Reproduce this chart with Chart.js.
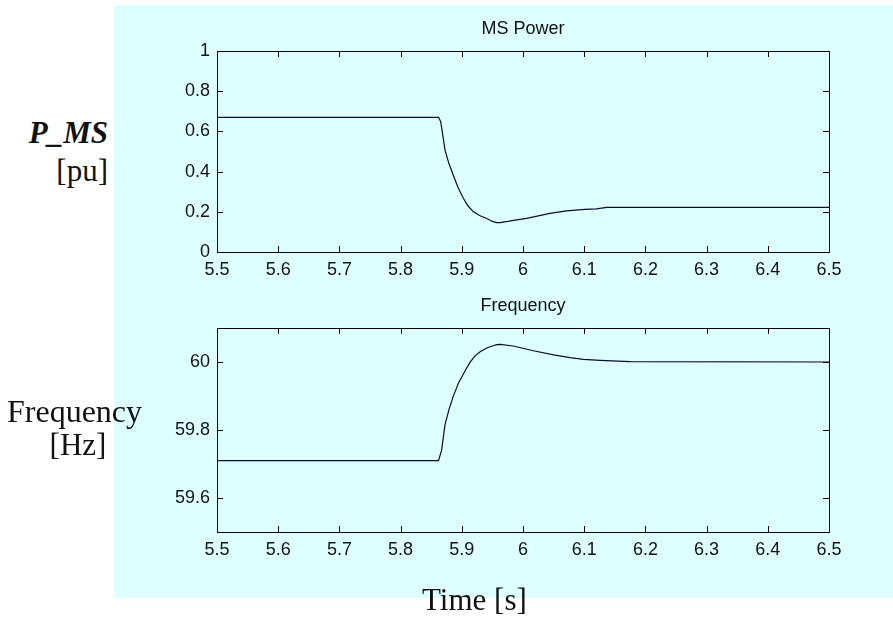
<!DOCTYPE html>
<html>
<head>
<meta charset="utf-8">
<script src="https://cdn.jsdelivr.net/npm/chart.js@4.4.1/dist/chart.umd.min.js"></script>
<style>
  body { margin: 0; background: #fff; width: 893px; height: 619px; position: relative; overflow: hidden; }
  #bg { position: absolute; left: 114px; top: 5px; width: 779px; height: 593px; background: #ddffff; }
  .box { position: absolute; left: 114px; width: 779px; }
  .lbl { position: absolute; font-family: "Liberation Serif", "Times New Roman", serif; font-size: 31px; line-height: 31px; color: #111; white-space: nowrap; }
</style>
</head>
<body>
<div id="bg"></div>
<div class="box" style="top:5px;height:285px"><canvas id="c1"></canvas></div>
<div class="box" style="top:290px;height:308px"><canvas id="c2"></canvas></div>
<div class="lbl" style="left:0;width:108px;text-align:right;top:117px;font-weight:bold;font-style:italic">P_MS</div>
<div class="lbl" style="left:0;width:108px;text-align:right;top:155px">[pu]</div>
<div class="lbl" style="left:0;width:149px;text-align:center;top:396px;font-size:32px">Frequency</div>
<div class="lbl" style="left:0;width:156px;text-align:center;top:429px">[Hz]</div>
<div class="lbl" style="left:422px;top:584px">Time [s]</div>
<script>
const timeTicks = [5.5, 5.6, 5.7, 5.8, 5.9, 6, 6.1, 6.2, 6.3, 6.4, 6.5]
const powerTicks = [0, 0.2, 0.4, 0.6, 0.8, 1]
const freqTicks = [59.6, 59.8, 60]

const powerTime = [5.5, 5.862, 5.8655, 5.869, 5.8726, 5.879, 5.886, 5.894, 5.9025, 5.91, 5.919, 5.93, 5.9407, 5.95, 5.957, 5.9624, 5.975, 5.987, 6.006, 6.025, 6.044, 6.071, 6.101, 6.12, 6.137, 6.5]
const power = [0.670, 0.670, 0.648, 0.58, 0.507, 0.44, 0.383, 0.32, 0.267, 0.23, 0.200, 0.18, 0.167, 0.152, 0.146, 0.146, 0.152, 0.159, 0.167, 0.18, 0.192, 0.205, 0.212, 0.215, 0.222, 0.222]

const freqTime = [5.5, 5.862, 5.867, 5.8725, 5.879, 5.886, 5.895, 5.905, 5.913, 5.9216, 5.93, 5.9407, 5.95, 5.957, 5.9624, 5.984, 6.017, 6.05, 6.077, 6.099, 6.126, 6.175, 6.5]
const freq = [59.71, 59.71, 59.741, 59.815, 59.86, 59.899, 59.94, 59.973, 59.998, 60.018, 60.03, 60.041, 60.047, 60.051, 60.052, 60.047, 60.033, 60.021, 60.013, 60.008, 60.005, 60.001, 60.0]

Chart.defaults.font.family = '"Liberation Sans", Arial, sans-serif'
Chart.defaults.font.size = 18
Chart.defaults.color = '#111'

const fmt = (v) => String(Math.round(v * 10) / 10)

// matlab style box with inward ticks on all four sides
const frame = {
	id: 'frame',
	afterDraw(chart) {
		const { ctx, chartArea: a, scales } = chart
		const len = 6
		ctx.save()
		ctx.strokeStyle = '#000'
		ctx.lineWidth = 1
		ctx.beginPath()
		scales.x.ticks.forEach((t) => {
			const px = Math.round(scales.x.getPixelForValue(t.value)) + 0.5
			ctx.moveTo(px, a.bottom); ctx.lineTo(px, a.bottom - len)
			ctx.moveTo(px, a.top); ctx.lineTo(px, a.top + len)
		})
		scales.y.ticks.forEach((t) => {
			const py = Math.round(scales.y.getPixelForValue(t.value)) + 0.5
			ctx.moveTo(a.left, py); ctx.lineTo(a.left + len, py)
			ctx.moveTo(a.right, py); ctx.lineTo(a.right - len, py)
		})
		ctx.stroke()
		ctx.strokeRect(Math.round(a.left) + 0.5, Math.round(a.top) + 0.5, Math.round(a.right - a.left), Math.round(a.bottom - a.top))
		ctx.restore()
	},
}

function makeChart(id, title, titlePad, xs, ys, yMin, yMax, yTicks, bottomPad) {
	return new Chart(document.getElementById(id), {
		type: 'line',
		data: {
			datasets: [{
				data: xs.map((x, i) => ({ x, y: ys[i] })),
				borderColor: '#0a0a30',
				borderWidth: 1.2,
				pointRadius: 0,
				tension: 0,
			}],
		},
		options: {
			responsive: true,
			maintainAspectRatio: false,
			animation: false,
			layout: { padding: { left: 0, right: 64, top: 0, bottom: bottomPad } },
			plugins: {
				legend: { display: false },
				tooltip: { enabled: false },
				title: { display: true, fullSize: false, text: title, font: { size: 18, weight: 'normal' }, color: '#111', padding: titlePad },
			},
			scales: {
				x: {
					type: 'linear', min: 5.5, max: 6.5,
					grid: { display: false, drawTicks: false },
					border: { display: false },
					afterBuildTicks: (s) => { s.ticks = timeTicks.map((v) => ({ value: v })) },
					afterFit: (s) => { s.height = 30 },
					ticks: { padding: 7, maxRotation: 0, callback: fmt },
				},
				y: {
					min: yMin, max: yMax,
					grid: { display: false, drawTicks: false },
					border: { display: false },
					afterBuildTicks: (s) => { s.ticks = yTicks.map((v) => ({ value: v })) },
					afterFit: (s) => { s.width = 103 },
					ticks: { padding: 7, callback: fmt },
				},
			},
		},
		plugins: [frame],
	})
}

makeChart('c1', 'MS Power', { top: 13.2, bottom: 11.2 }, powerTime, power, 0, 1, powerTicks, 8)
makeChart('c2', 'Frequency', { top: 5.7, bottom: 10.7 }, freqTime, freq, 59.5, 60.1, freqTicks, 36)
</script>
</body>
</html>
